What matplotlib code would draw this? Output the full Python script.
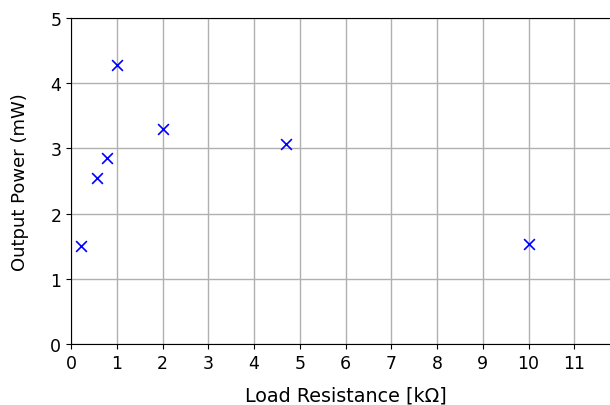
import matplotlib
matplotlib.use("Agg")
import matplotlib.pyplot as plt

# resistências de carga (kΩ) e potência medida (mW)
resistance = [0.22, 0.56, 0.78, 1.0, 2.0, 4.7, 10.0]
power = [1.50, 2.54, 2.86, 4.28, 3.30, 3.07, 1.54]

x_ticks = list(range(0, 12))
y_ticks = list(range(0, 6))

fig = plt.figure(figsize=(6.1, 4.06), dpi=100)
# eixo passa da borda direita, como no original recortado
ax = fig.add_axes([71 / 610, 1 - 345 / 406, 549 / 610, 326 / 406])

ax.scatter(resistance, power, marker="x", color="blue", s=60, linewidths=1.2, zorder=3)

ax.set_xlim(0, 12)
ax.set_ylim(0, 5)
ax.set_xticks(x_ticks)
ax.set_yticks(y_ticks)
ax.tick_params(labelsize=12.5)
ax.grid(True, color="#b0b0b0", linewidth=1.0)
ax.set_axisbelow(True)
ax.set_xlabel("Load Resistance [kΩ]", fontsize=13.8, labelpad=10)
ax.set_ylabel("Output Power (mW)", fontsize=13, labelpad=15)

fig.savefig("out.png", dpi=100)
